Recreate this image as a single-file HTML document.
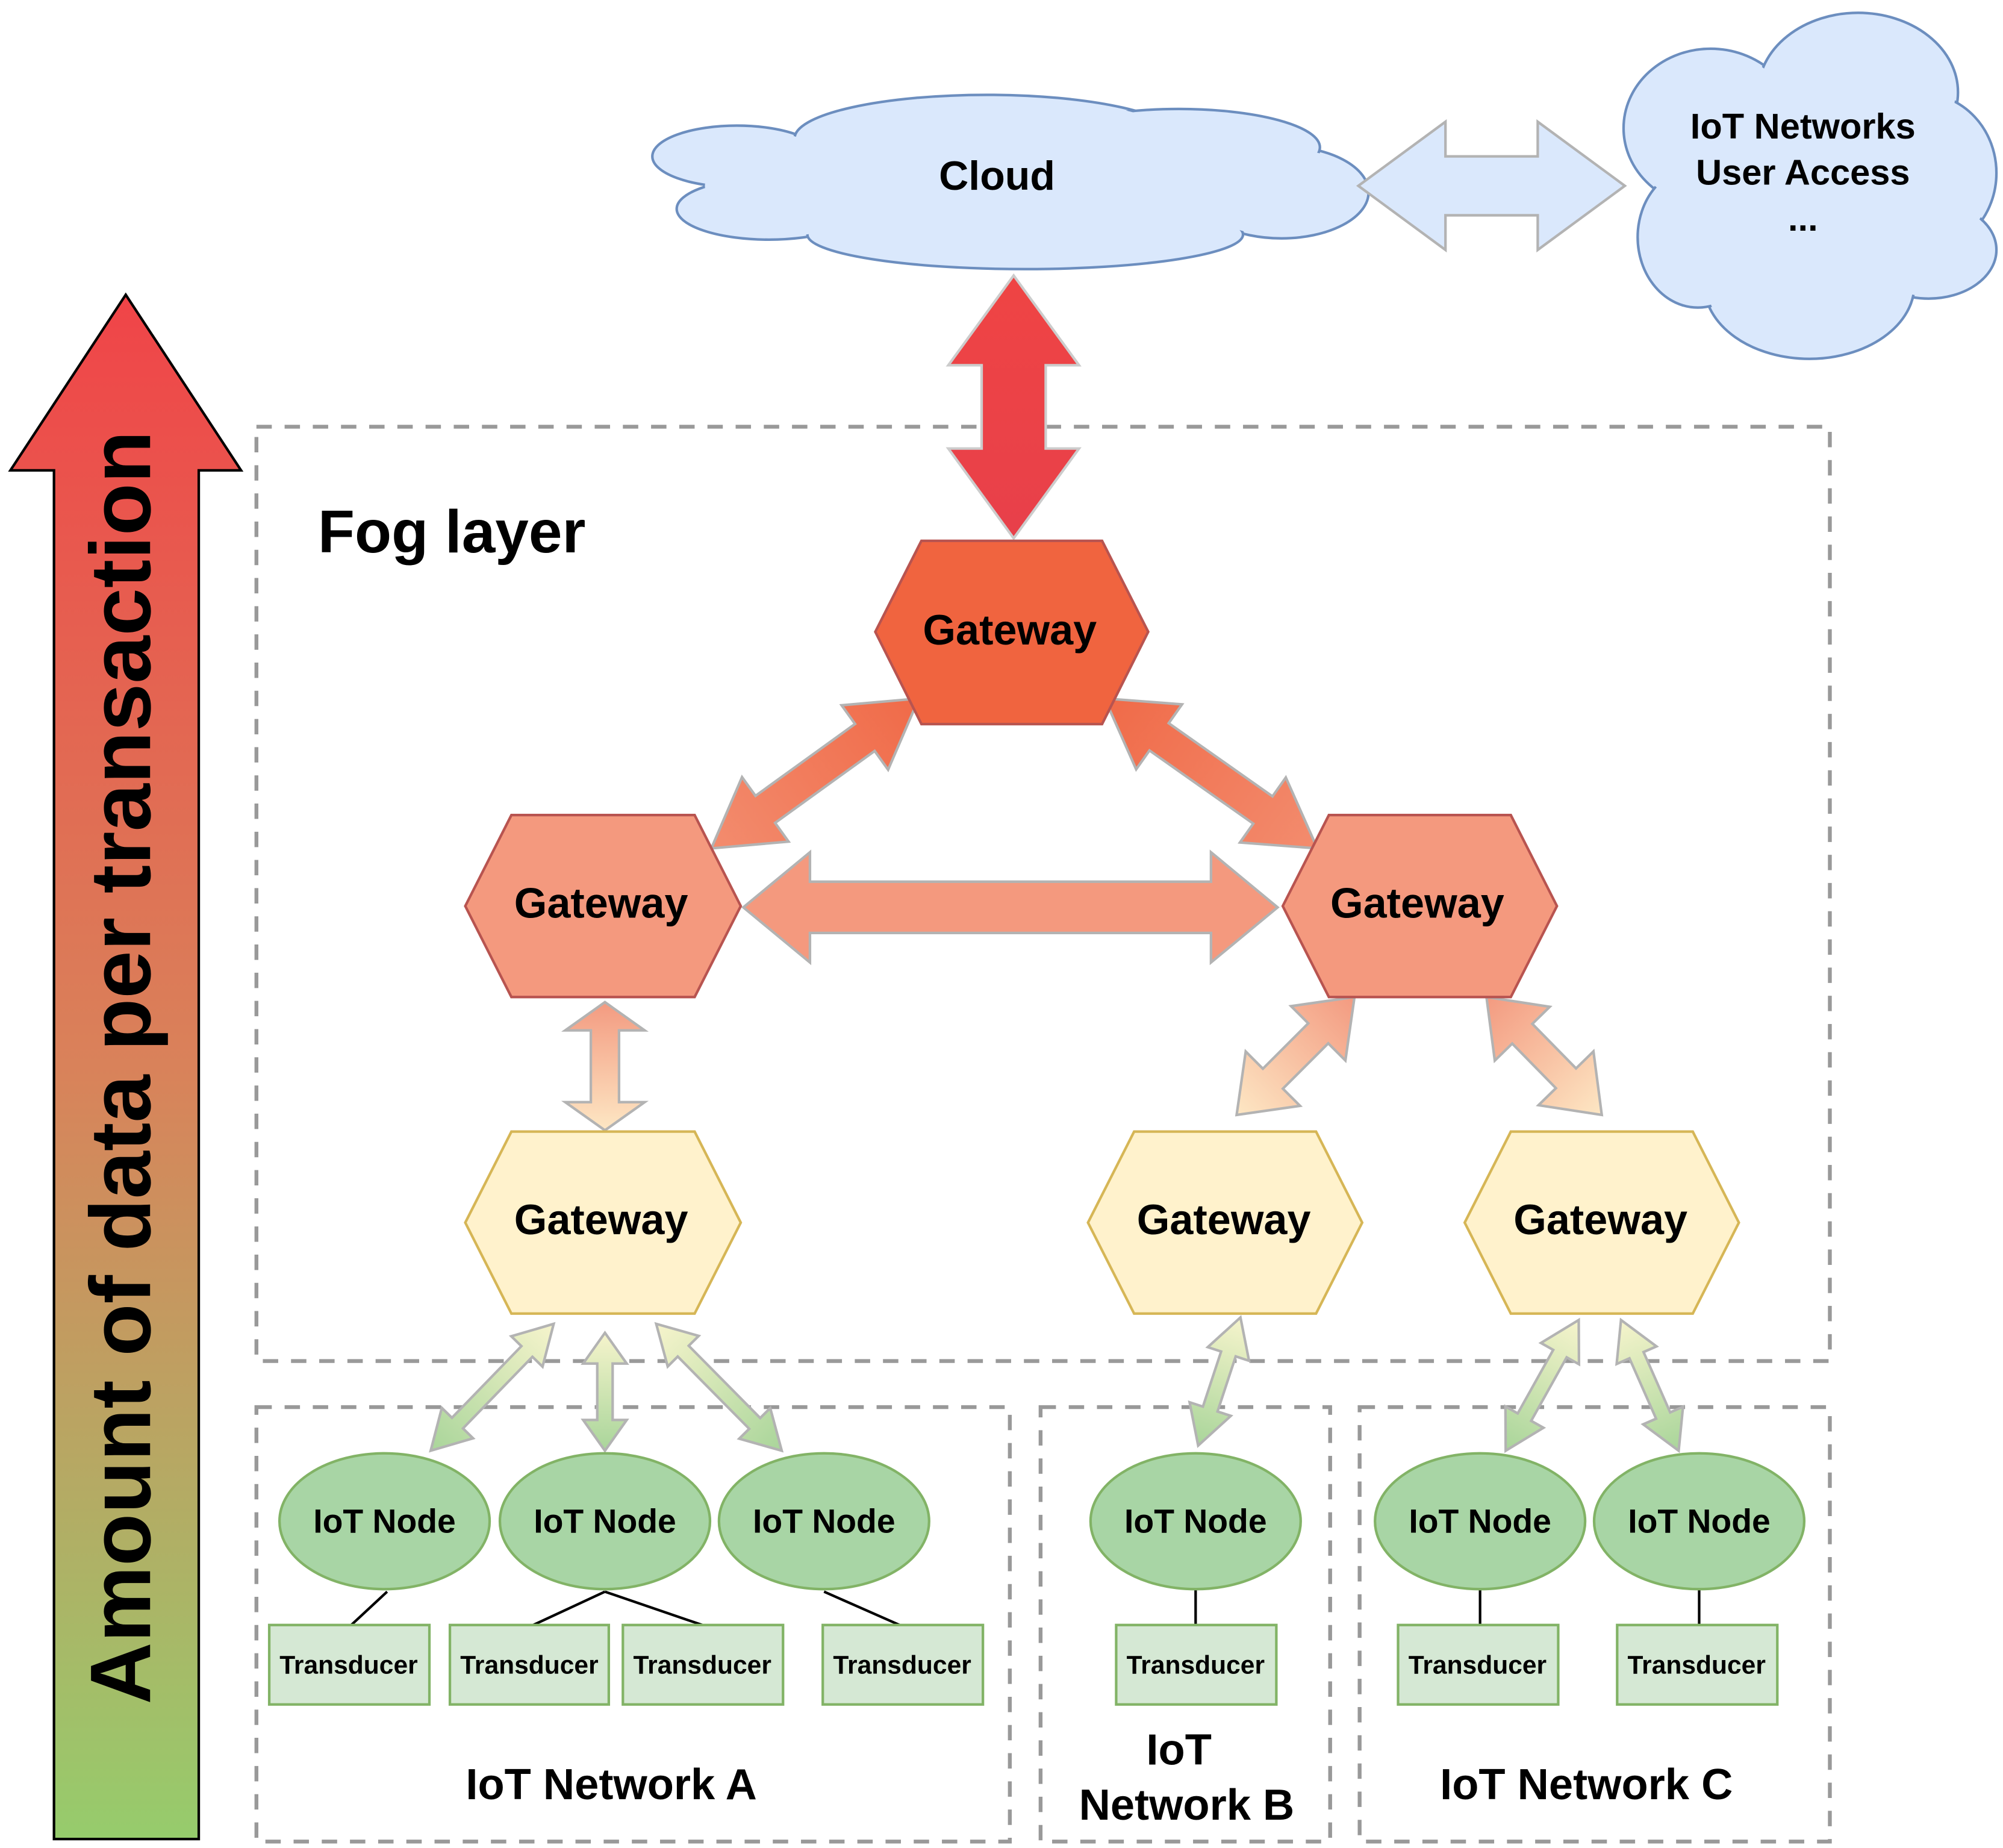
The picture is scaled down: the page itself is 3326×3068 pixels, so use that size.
<!DOCTYPE html>
<html><head><meta charset="utf-8"><style>
html,body{margin:0;padding:0;background:#fff}
svg{display:block}
text{font-family:"Liberation Sans",Arial,sans-serif;font-weight:bold;fill:#000}
</style></head><body>
<svg id="s" width="3326" height="3068" viewBox="0 0 1563 1442" xmlns="http://www.w3.org/2000/svg">
<defs>
<linearGradient id="big" x1="0" y1="230" x2="0" y2="1435" gradientUnits="userSpaceOnUse">
<stop offset="0" stop-color="#f04448"/><stop offset="0.5" stop-color="#d9825a"/><stop offset="1" stop-color="#96cc6c"/></linearGradient>
</defs>
<polygon points="98,230 188,367 155,367 155,1435 42,1435 42,367 8,367" fill="url(#big)" stroke="#000" stroke-width="2"/>
<text transform="translate(117,833) rotate(-90)" text-anchor="middle" font-size="67">Amount of data per transaction</text>

<g fill="#dae8fc" stroke="#6c8ebf" stroke-width="2">
<ellipse cx="575" cy="122" rx="66" ry="24"/><ellipse cx="770" cy="108" rx="150" ry="34"/>
<ellipse cx="1000" cy="150" rx="68" ry="36"/><ellipse cx="600" cy="163" rx="72" ry="24"/>
<ellipse cx="800" cy="183" rx="170" ry="27"/><ellipse cx="920" cy="115" rx="110" ry="30"/>
</g>
<g fill="#dae8fc">
<ellipse cx="575" cy="122" rx="64" ry="22"/><ellipse cx="770" cy="108" rx="148" ry="32"/>
<ellipse cx="1000" cy="150" rx="66" ry="34"/><ellipse cx="600" cy="163" rx="70" ry="22"/>
<ellipse cx="800" cy="183" rx="168" ry="25"/><ellipse cx="920" cy="115" rx="108" ry="28"/>
<ellipse cx="790" cy="145" rx="240" ry="45"/>
</g>
<text x="778" y="148" text-anchor="middle" font-size="32">Cloud</text>

<g fill="#dae8fc" stroke="#6c8ebf" stroke-width="2">
<ellipse cx="1335" cy="100" rx="68" ry="62"/><ellipse cx="1450" cy="72" rx="78" ry="62"/>
<ellipse cx="1500" cy="135" rx="58" ry="62"/><ellipse cx="1505" cy="195" rx="53" ry="38"/>
<ellipse cx="1412" cy="222" rx="82" ry="58"/><ellipse cx="1325" cy="185" rx="47" ry="55"/>
</g>
<g fill="#dae8fc">
<ellipse cx="1335" cy="100" rx="66" ry="60"/><ellipse cx="1450" cy="72" rx="76" ry="60"/>
<ellipse cx="1500" cy="135" rx="56" ry="60"/><ellipse cx="1505" cy="195" rx="51" ry="36"/>
<ellipse cx="1412" cy="222" rx="80" ry="56"/><ellipse cx="1325" cy="185" rx="45" ry="53"/>
<ellipse cx="1410" cy="145" rx="110" ry="90"/>
</g>
<text x="1407" y="108" text-anchor="middle" font-size="28">IoT Networks</text>
<text x="1407" y="144" text-anchor="middle" font-size="28">User Access</text>
<text x="1407" y="180" text-anchor="middle" font-size="28">...</text>

<g fill="none" stroke="#999" stroke-width="3" stroke-dasharray="12,10">
<rect x="200" y="333" width="1228" height="729"/>
<rect x="200" y="1098" width="588" height="339"/>
<rect x="812" y="1098" width="226" height="339"/>
<rect x="1061" y="1098" width="367" height="339"/>
</g>
<text x="248" y="431" font-size="47">Fog layer</text>

<g id="arrows"></g>

<g stroke-width="2">
<polygon points="683,493 719,422 860,422 896,493 860,565 719,565" fill="#f0643f" stroke="#b85450"/>
<polygon points="363,707 399,636 542,636 578,707 542,778 399,778" fill="#f4997e" stroke="#b85450"/>
<polygon points="1001,707 1037,636 1179,636 1215,707 1179,778 1037,778" fill="#f4997e" stroke="#b85450"/>
<polygon points="363,954 399,883 542,883 578,954 542,1025 399,1025" fill="#fff2cc" stroke="#d6b656"/>
<polygon points="849,954 885,883 1027,883 1063,954 1027,1025 885,1025" fill="#fff2cc" stroke="#d6b656"/>
<polygon points="1143,954 1179,883 1321,883 1357,954 1321,1025 1179,1025" fill="#fff2cc" stroke="#d6b656"/>
</g>
<g font-size="33" text-anchor="middle">
<text x="788" y="503">Gateway</text><text x="469" y="716">Gateway</text><text x="1106" y="716">Gateway</text>
<text x="469" y="963">Gateway</text><text x="955" y="963">Gateway</text><text x="1249" y="963">Gateway</text>
</g>

<g stroke="#000" stroke-width="2">
<line x1="302" y1="1242" x2="274" y2="1268"/><line x1="472" y1="1242" x2="416" y2="1268"/><line x1="472" y1="1242" x2="548" y2="1268"/>
<line x1="643" y1="1242" x2="702" y2="1268"/><line x1="933" y1="1240" x2="933" y2="1268"/>
<line x1="1155" y1="1240" x2="1155" y2="1268"/><line x1="1326" y1="1240" x2="1326" y2="1268"/>
</g>
<g fill="#a8d5a5" stroke="#82b366" stroke-width="2">
<ellipse cx="300" cy="1187" rx="82" ry="53"/><ellipse cx="472" cy="1187" rx="82" ry="53"/><ellipse cx="643" cy="1187" rx="82" ry="53"/>
<ellipse cx="933" cy="1187" rx="82" ry="53"/><ellipse cx="1155" cy="1187" rx="82" ry="53"/><ellipse cx="1326" cy="1187" rx="82" ry="53"/>
</g>
<g font-size="26" text-anchor="middle">
<text x="300" y="1196">IoT Node</text><text x="472" y="1196">IoT Node</text><text x="643" y="1196">IoT Node</text>
<text x="933" y="1196">IoT Node</text><text x="1155" y="1196">IoT Node</text><text x="1326" y="1196">IoT Node</text>
</g>
<g fill="#d5e8d4" stroke="#82b366" stroke-width="2">
<rect x="210" y="1268" width="125" height="62"/><rect x="351" y="1268" width="124" height="62"/><rect x="486" y="1268" width="125" height="62"/>
<rect x="642" y="1268" width="125" height="62"/><rect x="871" y="1268" width="125" height="62"/>
<rect x="1091" y="1268" width="125" height="62"/><rect x="1262" y="1268" width="125" height="62"/>
</g>
<g font-size="20" text-anchor="middle">
<text x="272" y="1306">Transducer</text><text x="413" y="1306">Transducer</text><text x="548" y="1306">Transducer</text>
<text x="704" y="1306">Transducer</text><text x="933" y="1306">Transducer</text>
<text x="1153" y="1306">Transducer</text><text x="1324" y="1306">Transducer</text>
</g>
<g font-size="34" text-anchor="middle">
<text x="477" y="1404">IoT Network A</text>
<text x="920" y="1377">IoT</text><text x="926" y="1420">Network B</text>
<text x="1238" y="1404">IoT Network C</text>
</g>
</svg>
<script>
(function(){
var NS="http://www.w3.org/2000/svg",g=document.getElementById("arrows"),defs=document.querySelector("defs"),n=0;
function arrow(x1,y1,x2,y2,w,hw,hl,c1,c2,st){
  var dx=x2-x1,dy=y2-y1,L=Math.hypot(dx,dy),ux=dx/L,uy=dy/L,px=-uy,py=ux;
  function P(t,o){return (x1+ux*t+px*o).toFixed(1)+","+(y1+uy*t+py*o).toFixed(1);}
  var pts=[P(0,0),P(hl,hw/2),P(hl,w/2),P(L-hl,w/2),P(L-hl,hw/2),P(L,0),P(L-hl,-hw/2),P(L-hl,-w/2),P(hl,-w/2),P(hl,-hw/2)];
  var id="g"+(n++),lg=document.createElementNS(NS,"linearGradient");
  lg.setAttribute("id",id);lg.setAttribute("gradientUnits","userSpaceOnUse");
  lg.setAttribute("x1",x1);lg.setAttribute("y1",y1);lg.setAttribute("x2",x2);lg.setAttribute("y2",y2);
  [[0,c1],[1,c2]].forEach(function(s){var e=document.createElementNS(NS,"stop");e.setAttribute("offset",s[0]);e.setAttribute("stop-color",s[1]);lg.appendChild(e);});
  defs.appendChild(lg);
  var p=document.createElementNS(NS,"polygon");p.setAttribute("points",pts.join(" "));
  p.setAttribute("fill","url(#"+id+")");p.setAttribute("stroke",st||"#b3b3b3");p.setAttribute("stroke-width","2");g.appendChild(p);
}
arrow(1060,145,1268,145,46,100,68,"#dae8fc","#dae8fc");
arrow(791,215,791,420,50,102,70,"#ef4444","#e8404a","#ccc");
arrow(717,545,555,662,26,62,52,"#f06a48","#f38c6e");
arrow(862,545,1028,662,26,62,52,"#f06a48","#f38c6e");
arrow(580,708,997,708,40,86,52,"#f4997e","#f4997e");
arrow(472,782,472,882,22,62,22,"#f39a80","#fde7c4");
arrow(1057,778,965,870,22,60,40,"#f39a80","#fde7c4");
arrow(1160,778,1250,870,22,60,40,"#f39a80","#fde7c4");
var a="#f6f4cc",b="#a9d59a";
arrow(432,1033,336,1132,12,34,30,a,b);
arrow(472,1040,472,1132,12,34,24,a,b);
arrow(512,1033,610,1132,12,34,30,a,b);
arrow(968,1028,935,1128,12,34,30,a,b);
arrow(1232,1030,1175,1132,12,34,30,a,b);
arrow(1265,1030,1310,1132,12,34,30,a,b);
})();
</script>
</body></html>
